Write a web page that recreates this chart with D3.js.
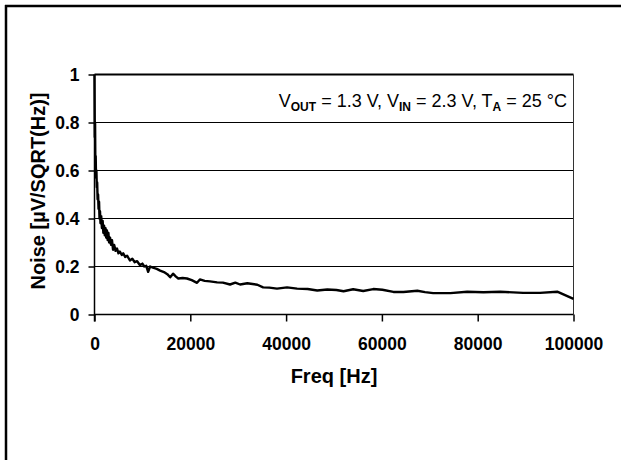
<!DOCTYPE html>
<html><head><meta charset="utf-8">
<script src="https://cdn.jsdelivr.net/npm/d3@7"></script>
<style>
html,body{margin:0;padding:0;background:#fff;overflow:hidden;}
svg{display:block;}
</style></head>
<body><svg id="c" width="621" height="460"></svg>
<script>
const freq = [0,60,120,180,250,320,400,480,560,650,
  750,850,950,1050,1150,1250,1400,1550,1700,1850,
  2000,2150,2300,2450,2600,2750,2900,3050,3250,3450,
  3650,3870,4100,4400,4700,5000,5300,5700,6000,6400,
  6800,7400,7900,8400,8900,9500,10000,10400,10800,11200,
  11600,12200,13000,13700,14500,15200,15800,16400,17000,17500,
  18400,19300,20300,21400,22000,23000,24100,25600,26800,28300,
  29400,30400,31900,33000,34000,35200,36500,38100,40200,42300,
  44500,46500,48600,50500,52000,54000,56100,58200,60100,62400,
  64500,67400,69000,70700,74300,77800,81200,84700,89500,93000,
  96600,100000];
const noise = [1.0,0.74,0.8,0.62,0.66,0.57,0.6,0.53,0.55,0.48,
  0.5,0.44,0.47,0.4,0.43,0.38,0.41,0.36,0.39,0.34,
  0.37,0.33,0.36,0.32,0.35,0.31,0.34,0.3,0.32,0.29,
  0.31,0.27,0.29,0.265,0.275,0.255,0.262,0.248,0.255,0.24,
  0.245,0.225,0.232,0.218,0.222,0.205,0.212,0.2,0.203,0.178,
  0.2,0.195,0.19,0.183,0.177,0.168,0.155,0.17,0.158,0.15,
  0.152,0.15,0.143,0.132,0.146,0.14,0.138,0.134,0.133,0.125,
  0.133,0.125,0.13,0.127,0.124,0.113,0.112,0.108,0.113,0.108,
  0.106,0.1,0.104,0.102,0.097,0.105,0.098,0.106,0.103,0.094,
  0.094,0.099,0.093,0.089,0.089,0.095,0.093,0.095,0.09,0.09,
  0.095,0.065];
const xTicks = [0,20000,40000,60000,80000,100000];
const yTicks = [0,0.2,0.4,0.6,0.8,1];
const xTitle = "Freq [Hz]";
const yTitle = "Noise [µV/SQRT(Hz)]";

const font = "'Liberation Sans',Arial,Helvetica,sans-serif";
const svg = d3.select("#c");
const x = d3.scaleLinear().domain([0,100000]).range([94.5,573.5]);
const y = d3.scaleLinear().domain([0,1]).range([314.5,74.5]);

// outer frame lines
svg.append("line").attr("x1",5).attr("x2",621).attr("y1",6).attr("y2",6).attr("stroke","#000").attr("stroke-width",2.5);
svg.append("line").attr("x1",6).attr("x2",6).attr("y1",5).attr("y2",460).attr("stroke","#000").attr("stroke-width",2.5);

// gridlines
svg.append("g").selectAll("line").data(yTicks.filter(d=>d>0)).join("line")
  .attr("x1",x(0)).attr("x2",x(100000)).attr("y1",d=>y(d)).attr("y2",d=>y(d))
  .attr("stroke","#000").attr("stroke-width",d=>d===1?2:1);
// right border
svg.append("line").attr("x1",x(100000)).attr("x2",x(100000)).attr("y1",y(1)).attr("y2",y(0))
  .attr("stroke","#333").attr("stroke-width",1);

const xAxis = svg.append("g").attr("transform",`translate(0,${y(0)})`)
  .call(d3.axisBottom(x).tickValues(xTicks).tickFormat(d3.format("d")).tickSize(7).tickPadding(16.5).tickSizeOuter(0));
const yAxis = svg.append("g").attr("transform",`translate(${x(0)},0)`)
  .call(d3.axisLeft(y).tickValues(yTicks).tickFormat(d=>d===0||d===1?String(d):d3.format(".1f")(d)).tickSize(6).tickPadding(9).tickSizeOuter(0));
[xAxis,yAxis].forEach(a=>{
  a.select(".domain").attr("stroke","#000").attr("stroke-width",1.5);
  a.selectAll(".tick line").attr("stroke","#000").attr("stroke-width",1.5);
  a.selectAll(".tick text").attr("fill","#000")
    .style("font-family",font).style("font-weight","bold").style("font-size","17.5px");
});
xAxis.select(".domain").attr("d",`M${x(0)},0H${x(100000)}`);
yAxis.select(".domain").attr("d",`M0,${y(0)+7}V${y(1)}`);

// line
const pts = freq.map((f,i)=>[f,noise[i]]);
svg.append("path").datum(pts)
  .attr("d",d3.line().x(d=>x(d[0])).y(d=>y(d[1])))
  .attr("fill","none").attr("stroke","#000").attr("stroke-width",2.4).attr("stroke-linejoin","round");

// titles
svg.append("text").attr("x",334).attr("y",383).attr("text-anchor","middle")
  .style("font-family",font).style("font-weight","bold").style("font-size","20px").text(xTitle);
svg.append("text").attr("transform","translate(45,191) rotate(-90)").attr("text-anchor","middle")
  .style("font-family",font).style("font-weight","bold").style("font-size","20px").text(yTitle);

// annotation
const ann = svg.append("text").attr("x",567).attr("y",107).attr("text-anchor","end")
  .style("font-family",font).style("font-size","18px");
const parts = [["V",0],["OUT",1],[" = 1.3 V, V",0],["IN",1],[" = 2.3 V, T",0],["A",1],[" = 25 °C",0]];
parts.forEach((p,i)=>{
  const t = ann.append("tspan").text(p[0]);
  if(p[1]) t.attr("dy",4).style("font-size","12px").style("font-weight","bold");
  else t.attr("dy",i===0?0:-4);
});
</script></body></html>
